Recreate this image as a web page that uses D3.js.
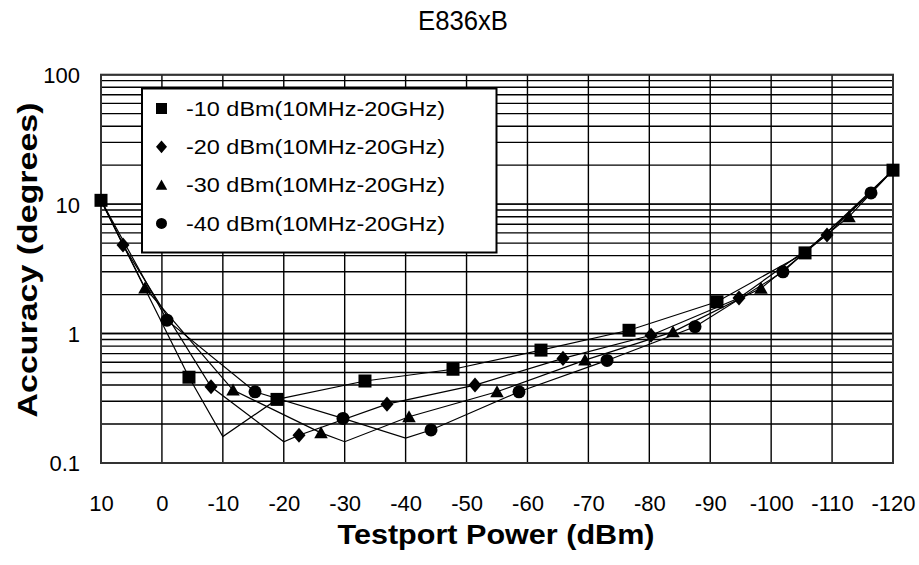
<!DOCTYPE html>
<html>
<head>
<meta charset="utf-8">
<script src="https://cdn.jsdelivr.net/npm/d3@7/dist/d3.min.js"></script>
<style>
  html, body { margin: 0; padding: 0; background: #fff; }
  svg { display: block; }
  text { font-family: Arial, "Liberation Sans", sans-serif; fill: #000; }
</style>
</head>
<body>
<svg id="chart" width="919" height="565"></svg>
<script>
// Phase accuracy vs test port power, one series per reference level
const seriesNames = [
  "-10 dBm(10MHz-20GHz)",
  "-20 dBm(10MHz-20GHz)",
  "-30 dBm(10MHz-20GHz)",
  "-40 dBm(10MHz-20GHz)"
];

// -10 dBm reference (squares)
const sqPower = [10, -4.44, -10, -18.89, -33.33, -47.78, -62.22, -76.67, -91.11, -105.56, -120];
const sqAcc   = [10.7, 0.46, 0.16, 0.31, 0.43, 0.53, 0.745, 1.06, 1.76, 4.2, 18.3];
const sqMark  = [1, 1, 0, 1, 1, 1, 1, 1, 1, 1, 1];

// -20 dBm reference (diamonds)
const dmPower = [10, 6.39, -8.06, -20, -22.5, -36.94, -51.39, -65.83, -80.28, -94.72, -109.17, -120];
const dmAcc   = [10.7, 4.83, 0.388, 0.146, 0.164, 0.285, 0.40, 0.643, 0.97, 1.88, 5.77, 18.3];
const dmMark  = [0, 1, 1, 0, 1, 1, 1, 1, 1, 1, 1, 0];

// -30 dBm reference (triangles)
const trPower = [10, 2.78, -11.67, -26.11, -30, -40.56, -55.0, -69.44, -83.89, -98.33, -112.78, -120];
const trAcc   = [10.7, 2.25, 0.366, 0.171, 0.146, 0.2275, 0.355, 0.624, 1.03, 2.24, 8.0, 18.3];
const trMark  = [0, 1, 1, 1, 0, 1, 1, 1, 1, 1, 1, 0];

// -40 dBm reference (circles)
const ciPower = [10, -0.83, -15.28, -29.72, -40, -44.17, -58.61, -73.06, -87.5, -101.94, -116.39, -120];
const ciAcc   = [10.7, 1.27, 0.355, 0.221, 0.156, 0.18, 0.355, 0.62, 1.13, 3.0, 12.2, 18.3];
const ciMark  = [0, 1, 1, 1, 0, 1, 1, 1, 1, 1, 1, 0];

const xTicks = [10, 0, -10, -20, -30, -40, -50, -60, -70, -80, -90, -100, -110, -120];
const yTicks = [0.1, 1, 10, 100];
const yTickLabels = ["0.1", "1", "10", "100"];

const titleText = "E836xB";
const xTitle = "Testport Power (dBm)";
const yTitle = "Accuracy (degrees)";

// ---- layout ----
const svg = d3.select("#chart");
const L = 101, R = 893, T = 74.7, B = 463;

const x = d3.scaleLinear().domain([10, -120]).range([L, R]);
const y = d3.scaleLog().domain([0.1, 100]).range([B, T]);

// minor log grid values
const yGrid = [];
[0.1, 1, 10].forEach(d => { for (let k = 1; k <= 10; k++) yGrid.push(+(d * k).toPrecision(3)); });

const grid = svg.append("g");
grid.selectAll("line.h").data(yGrid).join("line")
  .attr("x1", L).attr("x2", R)
  .attr("y1", d => y(d)).attr("y2", d => y(d))
  .attr("stroke", "#000").attr("stroke-width", 1.4);
grid.selectAll("line.v").data(xTicks).join("line")
  .attr("x1", d => x(d)).attr("x2", d => x(d))
  .attr("y1", T).attr("y2", B)
  .attr("stroke", "#000").attr("stroke-width", 1.4);

// plot frame
svg.append("rect").attr("x", L).attr("y", T).attr("width", R - L).attr("height", B - T)
  .attr("fill", "none").attr("stroke", "#333").attr("stroke-width", 2);

// axes (labels only), plain hyphen for negative numbers
const xAxis = svg.append("g").attr("transform", `translate(0,${B})`)
  .call(d3.axisBottom(x).tickValues(xTicks).tickSize(0).tickPadding(0).tickFormat(d => String(d)));
xAxis.select(".domain").remove();
xAxis.selectAll("text").attr("font-size", 22).attr("font-family", "Arial, 'Liberation Sans', sans-serif")
  .attr("dy", 0).attr("y", 48).attr("fill", "#000");

const yAxis = svg.append("g").attr("transform", `translate(${L},0)`)
  .call(d3.axisLeft(y).tickValues(yTicks).tickSize(0).tickPadding(0)
    .tickFormat((d, i) => yTickLabels[i]));
yAxis.select(".domain").remove();
yAxis.selectAll("text").attr("font-size", 22).attr("font-family", "Arial, 'Liberation Sans', sans-serif")
  .attr("x", -21).attr("dy", "0.36em").attr("fill", "#000");

// titles
svg.append("text").attr("x", 463).attr("y", 30).attr("text-anchor", "middle")
  .attr("font-size", 27).attr("textLength", 90).attr("lengthAdjust", "spacingAndGlyphs")
  .text(titleText);
svg.append("text").attr("x", 496).attr("y", 544).attr("text-anchor", "middle")
  .attr("font-size", 27).attr("font-weight", "bold")
  .attr("textLength", 317).attr("lengthAdjust", "spacingAndGlyphs")
  .text(xTitle);
svg.append("text").attr("transform", "translate(37,260) rotate(-90)").attr("text-anchor", "middle")
  .attr("font-size", 27).attr("font-weight", "bold")
  .attr("textLength", 315).attr("lengthAdjust", "spacingAndGlyphs")
  .text(yTitle);

// marker shapes
const shapes = {
  square: s => `M${-s/2},${-s/2}h${s}v${s}h${-s}Z`,
  diamond: s => `M0,${-s*0.58}L${s*0.5},0L0,${s*0.58}L${-s*0.5},0Z`,
  triangle: s => `M0,${-s*0.5}L${s*0.52},${s*0.42}L${-s*0.52},${s*0.42}Z`,
  circle: s => { const r = s / 2; return `M${r},0A${r},${r} 0 1,1 ${-r},0A${r},${r} 0 1,1 ${r},0Z`; }
};

const series = [
  { name: seriesNames[0], xs: sqPower, ys: sqAcc, mk: sqMark, shape: "square",   size: 13 },
  { name: seriesNames[1], xs: dmPower, ys: dmAcc, mk: dmMark, shape: "diamond",  size: 13 },
  { name: seriesNames[2], xs: trPower, ys: trAcc, mk: trMark, shape: "triangle", size: 13 },
  { name: seriesNames[3], xs: ciPower, ys: ciAcc, mk: ciMark, shape: "circle",   size: 13 }
];

const line = d3.line().x(d => x(d[0])).y(d => y(d[1]));
const plot = svg.append("g");

series.forEach(s => {
  const pts = s.xs.map((v, i) => [v, s.ys[i], s.mk[i]]);
  plot.append("path").datum(pts).attr("d", line)
    .attr("fill", "none").attr("stroke", "#000").attr("stroke-width", 1.2);
});
series.slice().reverse().forEach(s => {
  const pts = s.xs.map((v, i) => [v, s.ys[i], s.mk[i]]).filter(p => p[2]);
  plot.selectAll(null).data(pts).join("path")
    .attr("transform", d => `translate(${x(d[0])},${y(d[1])})`)
    .attr("d", shapes[s.shape](s.size)).attr("fill", "#000");
});

// legend
const lg = svg.append("g");
lg.append("rect").attr("x", 142).attr("y", 88.5).attr("width", 354.5).attr("height", 164)
  .attr("fill", "#fff").attr("stroke", "#000").attr("stroke-width", 2);
series.forEach((s, i) => {
  const cy = 108.5 + i * 38.3;
  lg.append("path").attr("transform", `translate(161.5,${cy})`)
    .attr("d", shapes[s.shape](11)).attr("fill", "#000");
  lg.append("text").attr("x", 186).attr("y", cy + 7.3).attr("font-size", 20)
    .attr("textLength", 259).attr("lengthAdjust", "spacingAndGlyphs").text(s.name);
});
</script>
</body>
</html>
